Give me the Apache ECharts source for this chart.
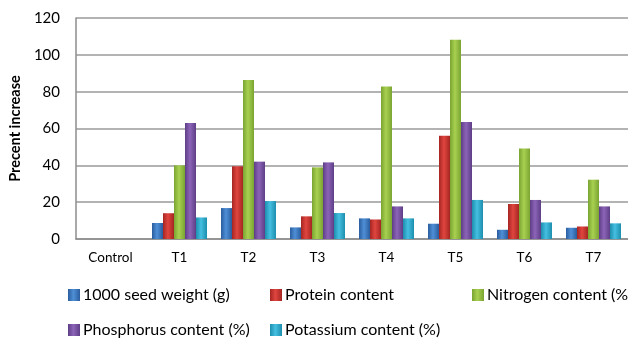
<!DOCTYPE html>
<html>
<head>
<meta charset="utf-8">
<script src="https://cdn.jsdelivr.net/npm/echarts@6/dist/echarts.min.js"></script>
<style>
  html, body { margin: 0; padding: 0; background: #fff; }
  #chart { width: 628px; height: 338px; }
</style>
</head>
<body>
<div id="chart"></div>
<script>
// categories on x axis
var categories = ['Control', 'T1', 'T2', 'T3', 'T4', 'T5', 'T6', 'T7'];
// percent increase over control
var seedWeight = [0, 8.7, 16.8, 6.3, 11.2, 8.3, 5.0, 6.1];
var protein = [0, 14.0, 39.5, 12.3, 10.6, 56.0, 19.0, 6.8];
var nitrogen = [0, 40.0, 86.3, 38.9, 82.8, 108.2, 49.2, 32.2];
var phosphorus = [0, 63.0, 42.0, 41.6, 17.7, 63.5, 21.2, 17.7];
var potassium = [0, 11.7, 20.6, 14.1, 11.2, 21.2, 9.0, 8.5];
var yTicks = [0, 20, 40, 60, 80, 100, 120];

var seriesNames = ['1000 seed weight (g)', 'Protein content', 'Nitrogen content (%)',
  'Phosphorus content (%)', 'Potassium content (%)'];
var seriesData = [seedWeight, protein, nitrogen, phosphorus, potassium];
// [dark edge, light middle] per series for the shaded column look
var colors = [
  ['#2a5d9e', '#4f8fd6'],
  ['#a52622', '#e0453f'],
  ['#7aa432', '#a8d050'],
  ['#5e3e86', '#8c64b8'],
  ['#1d8eae', '#45bfe0']
];
// legend slot per series: [left, top]
var legendPos = [[68, 287], [270, 287], [472, 287], [68, 322], [270, 322]];

var myChart = echarts.init(document.getElementById('chart'));

var series = [];
var legends = [];
for (let i = 0; i < seriesNames.length; i++) {
  series.push({
    name: seriesNames[i],
    type: 'bar',
    data: seriesData[i],
    barWidth: 11,
    barGap: '0%',
    itemStyle: {
      color: new echarts.graphic.LinearGradient(0, 0, 1, 0, [
        { offset: 0, color: colors[i][0] },
        { offset: 0.45, color: colors[i][1] },
        { offset: 1, color: colors[i][0] }
      ])
    }
  });
  legends.push({
    data: [seriesNames[i]],
    left: legendPos[i][0],
    top: legendPos[i][1],
    padding: 0,
    itemWidth: 12,
    itemHeight: 12,
    itemGap: 4,
    icon: 'rect',
    selectedMode: false,
    textStyle: { fontFamily: 'Lato', fontSize: 16, color: '#000', padding: [0, 0, 0, -2] }
  });
}

myChart.setOption({
  animation: false,
  textStyle: { fontFamily: 'Lato' },
  grid: {
    left: 76,
    top: 18,
    width: 560,
    height: 221
  },
  legend: legends,
  xAxis: {
    type: 'category',
    data: categories,
    axisLine: { lineStyle: { color: '#8c8c8c', width: 1.5 } },
    axisTick: { show: false },
    axisLabel: { color: '#000', fontSize: 13.5, margin: 12, fontFamily: 'Lato' }
  },
  yAxis: {
    type: 'value',
    min: yTicks[0],
    max: yTicks[yTicks.length - 1],
    interval: 20,
    name: 'Precent increase',
    nameLocation: 'middle',
    nameGap: 44,
    nameTextStyle: { fontFamily: 'Lato', fontWeight: 'bold', fontSize: 14.5, color: '#000' },
    axisLine: { show: true, lineStyle: { color: '#8c8c8c', width: 1.5 } },
    axisTick: { show: false },
    axisLabel: { color: '#000', fontSize: 15, margin: 16, fontFamily: 'Lato' },
    splitLine: { lineStyle: { color: '#9a9a9a', width: 1.5 } }
  },
  series: series
});
</script>
</body>
</html>
